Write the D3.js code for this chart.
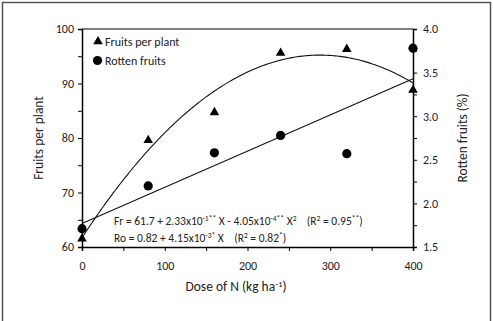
<!DOCTYPE html>
<html>
<head>
<meta charset="utf-8">
<script src="https://cdn.jsdelivr.net/npm/d3@7"></script>
<style>
  body { margin: 0; background: #fff; }
  svg { font-family: Calibri, Carlito, Lato, sans-serif; }
</style>
</head>
<body>
<svg width="493" height="321"></svg>
<script>
// Data
var doses = [0, 80, 160, 240, 320, 400];
var fruitsPerPlant = [61.5, 79.6, 84.7, 95.6, 96.3, 88.8];
var rottenFruits = [1.71, 2.20, 2.58, 2.78, 2.57, 3.78];
// fitted curves (coefficients from the figure)
var frCoef = [61.7, 0.233, -0.000405];
var roCoef = [1.77, 0.00415];
var xTicks = [0, 100, 200, 300, 400];
var leftTicks = [60, 70, 80, 90, 100];
var rightTicks = [1.5, 2.0, 2.5, 3.0, 3.5, 4.0];

var svg = d3.select("svg");

// outer frame
svg.append("rect")
  .attr("x", 2.5).attr("y", 2.5)
  .attr("width", 488).attr("height", 330)
  .attr("fill", "none").attr("stroke", "#555").attr("stroke-width", 1.5);

var x = d3.scaleLinear().domain([0, 400]).range([82, 413]);
var yL = d3.scaleLinear().domain([60, 100]).range([247, 29]);
var yR = d3.scaleLinear().domain([1.5, 4.0]).range([247, 29]);

// plot area top border
svg.append("line")
  .attr("x1", x(0)).attr("x2", x(400))
  .attr("y1", yL(100)).attr("y2", yL(100))
  .attr("stroke", "#000").attr("stroke-width", 1);

// x axis
var xAxis = svg.append("g")
  .attr("transform", "translate(0," + yL(60) + ")")
  .call(d3.axisBottom(x).tickValues(d3.range(0, 401, 50)).tickSize(4).tickFormat(function(d) {
    return xTicks.indexOf(d) >= 0 ? d : "";
  }));

// left axis
var leftAxis = svg.append("g")
  .attr("transform", "translate(" + x(0) + ",0)")
  .call(d3.axisLeft(yL).tickValues(d3.range(60, 101, 5)).tickSize(4).tickFormat(function(d) {
    return leftTicks.indexOf(d) >= 0 ? d : "";
  }));

// right axis
var rightAxis = svg.append("g")
  .attr("transform", "translate(" + x(400) + ",0)")
  .call(d3.axisRight(yR).tickValues(d3.range(1.5, 4.01, 0.25)).tickSize(4).tickFormat(function(d) {
    return rightTicks.some(function(t) { return Math.abs(t - d) < 1e-6; }) ? d3.format(".1f")(d) : "";
  }));

[xAxis, leftAxis, rightAxis].forEach(function(g) {
  g.select(".domain").attr("stroke", "#000").attr("stroke-width", 1.5);
  g.selectAll(".tick line").attr("stroke", "#000").attr("stroke-width", 1);
  g.selectAll(".tick text").attr("font-size", 12).attr("fill", "#222")
    .attr("font-family", "Calibri, Carlito, Lato, sans-serif");
});
xAxis.selectAll(".tick text").attr("dy", "1.3em");
leftAxis.selectAll(".tick text").attr("x", -8);
rightAxis.selectAll(".tick text").attr("x", 10);

// fitted curves
var xs = d3.range(0, 400.5, 2);
var quad = d3.line()
  .x(function(d) { return x(d); })
  .y(function(d) { return yL(frCoef[0] + frCoef[1] * d + frCoef[2] * d * d); });
svg.append("path").attr("d", quad(xs))
  .attr("fill", "none").attr("stroke", "#111").attr("stroke-width", 1.1);

var lin = d3.line()
  .x(function(d) { return x(d); })
  .y(function(d) { return yR(roCoef[0] + roCoef[1] * d); });
svg.append("path").attr("d", lin([0, 400]))
  .attr("fill", "none").attr("stroke", "#111").attr("stroke-width", 1.1);

// markers
var tri = d3.symbol().type(d3.symbolTriangle).size(40);
svg.selectAll(".tri").data(doses).enter().append("path")
  .attr("transform", function(d, i) { return "translate(" + x(d) + "," + yL(fruitsPerPlant[i]) + ")"; })
  .attr("d", tri).attr("fill", "#000");

svg.selectAll(".dot").data(doses).enter().append("circle")
  .attr("cx", function(d) { return x(d); })
  .attr("cy", function(d, i) { return yR(rottenFruits[i]); })
  .attr("r", 4.6).attr("fill", "#000");

// legend
svg.append("path").attr("transform", "translate(98,41.5)").attr("d", tri).attr("fill", "#000");
svg.append("text").attr("x", 105).attr("y", 45.5).attr("font-size", 12).attr("fill", "#222").text("Fruits per plant");
svg.append("circle").attr("cx", 97.5).attr("cy", 60.5).attr("r", 4.6).attr("fill", "#000");
svg.append("text").attr("x", 105).attr("y", 65).attr("font-size", 12).attr("fill", "#222").text("Rotten fruits");

// equations
var eq1 = svg.append("text").attr("x", 114).attr("y", 225).attr("font-size", 11.5).attr("fill", "#222");
eq1.append("tspan").text("Fr = 61.7 + 2.33x10");
eq1.append("tspan").attr("dy", -4).attr("font-size", 7.5).text("-1**");
eq1.append("tspan").attr("dy", 4).text(" X - 4.05x10");
eq1.append("tspan").attr("dy", -4).attr("font-size", 7.5).text("-4**");
eq1.append("tspan").attr("dy", 4).text(" X");
eq1.append("tspan").attr("dy", -4).attr("font-size", 7.5).text("2");
eq1.append("tspan").attr("dy", 4).attr("xml:space", "preserve").text("    (R");
eq1.append("tspan").attr("dy", -4).attr("font-size", 7.5).text("2");
eq1.append("tspan").attr("dy", 4).text(" = 0.95");
eq1.append("tspan").attr("dy", -4).attr("font-size", 7.5).text("**");
eq1.append("tspan").attr("dy", 4).text(")");

var eq2 = svg.append("text").attr("x", 114).attr("y", 242).attr("font-size", 11.5).attr("fill", "#222");
eq2.append("tspan").text("Ro = 0.82 + 4.15x10");
eq2.append("tspan").attr("dy", -4).attr("font-size", 7.5).text("-3*");
eq2.append("tspan").attr("dy", 4).attr("xml:space", "preserve").text(" X    (R");
eq2.append("tspan").attr("dy", -4).attr("font-size", 7.5).text("2");
eq2.append("tspan").attr("dy", 4).text(" = 0.82");
eq2.append("tspan").attr("dy", -4).attr("font-size", 7.5).text("*");
eq2.append("tspan").attr("dy", 4).text(")");

// axis titles
var xt = svg.append("text").attr("x", 236).attr("y", 291).attr("text-anchor", "middle")
  .attr("font-size", 13.5).attr("fill", "#222");
xt.append("tspan").text("Dose of N (kg ha");
xt.append("tspan").attr("dy", -4).attr("font-size", 9).text("-1");
xt.append("tspan").attr("dy", 4).text(")");

svg.append("text").attr("transform", "translate(43,138) rotate(-90)").attr("text-anchor", "middle")
  .attr("font-size", 13.5).attr("fill", "#222").text("Fruits per plant");
svg.append("text").attr("transform", "translate(467,138) rotate(-90)").attr("text-anchor", "middle")
  .attr("font-size", 13.5).attr("fill", "#222").text("Rotten fruits (%)");
</script>
</body>
</html>
